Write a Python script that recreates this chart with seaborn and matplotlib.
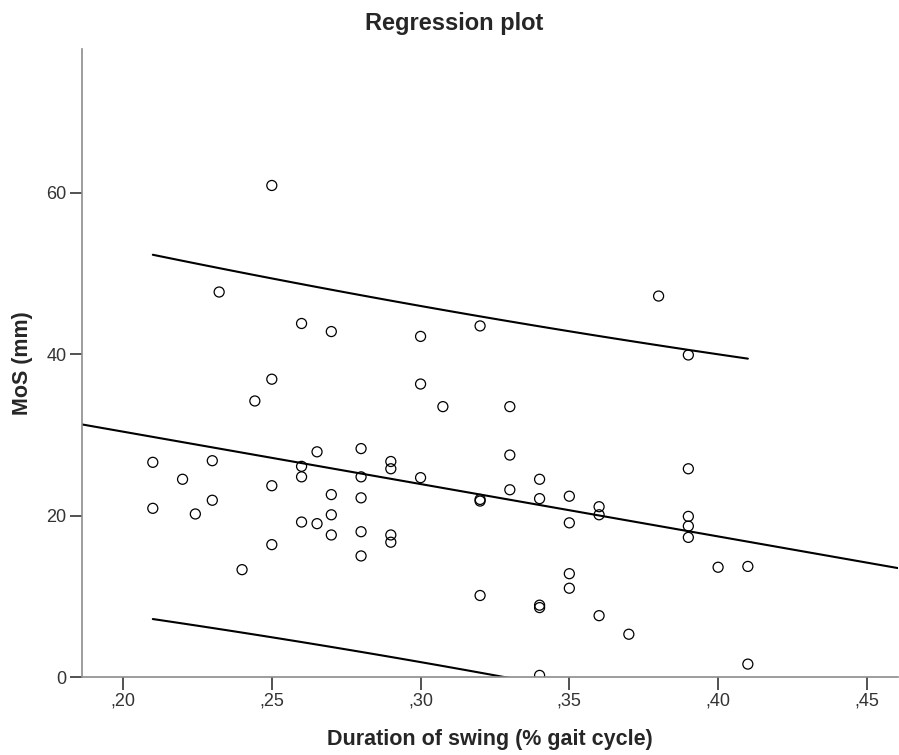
import numpy as np
import pandas as pd
import seaborn as sns
import matplotlib
matplotlib.use("Agg")
import matplotlib.pyplot as plt
from matplotlib.ticker import FuncFormatter

# swing duration (fraction of gait cycle) and margin of stability (mm)
swing = [0.25, 0.2323, 0.26, 0.27, 0.25, 0.2443, 0.21, 0.22, 0.23, 0.23,
         0.21, 0.2243, 0.25, 0.25, 0.24, 0.26, 0.26, 0.2652, 0.26, 0.2652,
         0.27, 0.27, 0.27, 0.28, 0.28, 0.28, 0.28, 0.28, 0.38, 0.32,
         0.30, 0.30, 0.3075, 0.33, 0.33, 0.29, 0.29, 0.30, 0.32, 0.32,
         0.33, 0.34, 0.34, 0.35, 0.35, 0.36, 0.36, 0.29, 0.29, 0.35,
         0.35, 0.32, 0.34, 0.34, 0.36, 0.37, 0.34, 0.39, 0.39, 0.39,
         0.39, 0.39, 0.40, 0.41, 0.41]
mos = [60.9, 47.7, 43.8, 42.8, 36.9, 34.2, 26.6, 24.5, 26.8, 21.9,
       20.9, 20.2, 23.7, 16.4, 13.3, 26.1, 24.8, 27.9, 19.2, 19.0,
       22.6, 20.1, 17.6, 28.3, 24.8, 22.2, 18.0, 15.0, 47.2, 43.5,
       42.2, 36.3, 33.5, 33.5, 27.5, 26.7, 25.8, 24.7, 22.0, 21.8,
       23.2, 24.5, 22.1, 22.4, 19.1, 21.1, 20.1, 17.6, 16.7, 12.8,
       11.0, 10.1, 8.9, 8.6, 7.6, 5.3, 0.2, 39.9, 25.8, 19.9,
       18.7, 17.3, 13.6, 13.7, 1.6]

x_ticks = [0.20, 0.25, 0.30, 0.35, 0.40, 0.45]
y_ticks = [0, 20, 40, 60]

df = pd.DataFrame({"swing": swing, "mos": mos})

sns.set_style("white")
plt.rcParams['font.family'] = ['Liberation Sans', 'DejaVu Sans']

fig = plt.figure(figsize=(8.99, 7.55), dpi=100)
ax = fig.add_axes([0.0912, 0.1033, 0.9078, 0.8317])
ax.set_xlim(0.1862, 0.4605)
ax.set_ylim(0, 77.8)

# fit line over the whole x-range
sns.regplot(data=df, x="swing", y="mos", ax=ax, ci=None, truncate=False,
            marker="o",
            scatter_kws={"s": 52, "facecolors": "none", "edgecolors": "black",
                         "linewidths": 0.9, "alpha": 1},
            line_kws={"color": "black", "linewidth": 1.5})

# 95% prediction interval for individual values
x = np.array(swing)
y = np.array(mos)
n = len(x)
b, a = np.polyfit(x, y, 1)
resid = y - (a + b * x)
s = np.sqrt(np.sum(resid ** 2) / (n - 2))
sxx = np.sum((x - x.mean()) ** 2)
t_val = 1.998  # t(0.975, df=63)
xs = np.linspace(x.min(), x.max(), 100)
yhat = a + b * xs
half = t_val * s * np.sqrt(1 + 1 / n + (xs - x.mean()) ** 2 / sxx)
ax.plot(xs, yhat + half, color="black", linewidth=1.5)
ax.plot(xs, yhat - half, color="black", linewidth=1.5)

ax.set_xlim(0.1862, 0.4605)
ax.set_ylim(0, 77.8)
ax.set_xticks(x_ticks)
ax.set_yticks(y_ticks)
ax.xaxis.set_major_formatter(FuncFormatter(lambda v, p: f"{v:.2f}"[1:].replace(".", ",")))
ax.yaxis.set_major_formatter(FuncFormatter(lambda v, p: f"{v:.0f}"))

for side in ["top", "right"]:
    ax.spines[side].set_visible(False)
for side in ["left", "bottom"]:
    ax.spines[side].set_color("#8c8c8c")
    ax.spines[side].set_linewidth(1.2)

ax.tick_params(axis="both", direction="out", length=9, width=1.2, color="#333333",
               labelsize=13, labelcolor="#333333", pad=2, left=True, bottom=True)

ax.set_xlabel("Duration of swing (% gait cycle)", fontsize=15.5, fontweight="bold", labelpad=14)
ax.set_ylabel("MoS (mm)", fontsize=15.5, fontweight="bold", labelpad=10)
fig.text(0.505, 0.969, "Regression plot", ha="center", va="center",
         fontsize=17, fontweight="bold")

fig.savefig("out.png", dpi=100)
